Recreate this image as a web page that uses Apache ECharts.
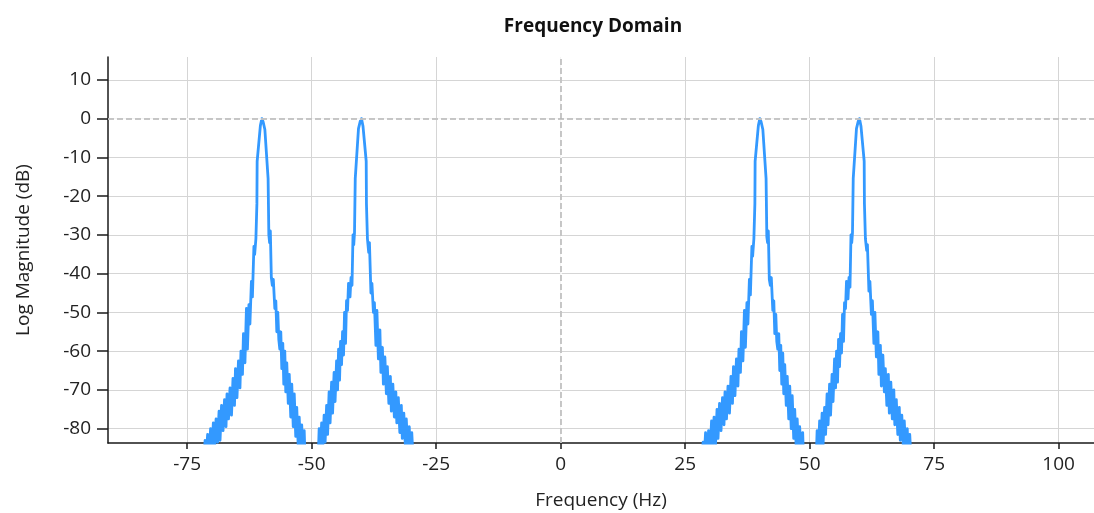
<!DOCTYPE html>
<html>
<head>
<meta charset="utf-8">
<script src="https://cdn.jsdelivr.net/npm/echarts@6/dist/echarts.min.js"></script>
<style>
html,body{margin:0;padding:0;background:#fff;}
#chart{width:1094px;height:513px;}
</style>
</head>
<body>
<div id="chart"></div>
<script>
// ---- Tick labels ----
const xTicks = [-75, -50, -25, 0, 25, 50, 75, 100];
const yTicks = [-80, -70, -60, -50, -40, -30, -20, -10, 0, 10];

// ---- Spectrum values: [frequency Hz, log magnitude dB] ----
const peakM60 = [
  [-71.8,-90],[-71.4,-83],[-71.2,-88],[-70.9,-81.5],[-70.6,-87],[-70.3,-80],[-70.0,-86.5],
  [-69.75,-78.5],[-69.5,-85],[-69.2,-77.5],[-68.9,-83.5],[-68.6,-75.5],[-68.4,-83],
  [-68.1,-74],[-67.8,-80.5],[-67.5,-72.5],[-67.2,-79.5],[-67.0,-71],[-66.7,-77.5],[-66.4,-69.5],
  [-66.1,-76.5],[-65.8,-67],[-65.5,-74],[-65.3,-64.5],[-65.0,-72],[-64.7,-62.5],
  [-64.4,-69.5],[-64.2,-60],[-63.9,-66],[-63.7,-55.5],[-63.4,-63],[-63.1,-49],
  [-62.9,-59.5],[-62.6,-48],[-62.4,-53],[-62.1,-42],[-61.9,-46],[-61.6,-33],[-61.45,-35],
  [-61.2,-31],[-61.0,-22],[-60.95,-11],[-60.3,-1.8],[-60.0,0],
  [-59.75,-0.8],[-59.4,-2.8],[-58.75,-15.5],[-58.6,-30],[-58.45,-32],[-58.3,-29],
  [-58.1,-41],[-57.9,-43],[-57.7,-41.5],[-57.4,-49],[-57.2,-47],[-57.0,-55],[-56.8,-50],
  [-56.6,-57],[-56.4,-59.5],[-56.2,-55],[-56.0,-64.5],[-55.8,-58],[-55.6,-68.5],[-55.4,-60],
  [-55.2,-70.5],[-55.0,-63],[-54.7,-73.5],[-54.5,-66],[-54.2,-77],[-54.0,-68.5],[-53.7,-79.5],
  [-53.5,-71],[-53.2,-82],[-53.0,-74.5],[-52.7,-84.5],[-52.5,-77],[-52.2,-86.5],[-52.0,-79],
  [-51.7,-88],[-51.5,-80.5],[-51.3,-89],[-51.0,-92]
];
const peakM40 = [
  [-49.0,-92],[-48.7,-88.5],[-48.5,-80],[-48.3,-87.5],[-48.0,-78.5],[-47.8,-85.5],[-47.5,-76.5],
  [-47.3,-83.5],[-47.0,-74],[-46.8,-81.5],[-46.5,-70.5],[-46.3,-78.5],[-46.0,-68],[-45.8,-76],
  [-45.5,-65.5],[-45.3,-73],[-45.0,-62.5],[-44.8,-70],[-44.6,-59.5],[-44.4,-67.5],
  [-44.2,-57.5],[-44.0,-63.5],[-43.8,-55],[-43.6,-61],[-43.4,-50],[-43.2,-58],[-43.0,-47],
  [-42.8,-49.5],[-42.6,-42.5],[-42.3,-46],[-42.1,-41],[-41.9,-43],[-41.7,-30],[-41.55,-32.5],
  [-41.4,-29.5],[-41.25,-15.5],[-40.6,-2.6],[-40.25,-0.7],[-40.0,0],
  [-39.7,-1.9],[-39.05,-11],[-39.0,-22],[-38.8,-31],[-38.55,-34.5],[-38.4,-32],[-38.1,-45],
  [-37.9,-42.5],[-37.6,-50],[-37.4,-47.5],[-37.1,-58.5],[-36.9,-49.5],[-36.6,-62],
  [-36.3,-54.5],[-36.1,-65.5],[-35.8,-59],[-35.6,-68.5],[-35.3,-61.5],[-35.0,-71],[-34.8,-64],
  [-34.5,-73.5],[-34.2,-66.5],[-34.0,-75.5],[-33.7,-68.5],[-33.4,-77],[-33.1,-70.5],[-32.9,-78.5],
  [-32.6,-72],[-32.3,-81],[-32.0,-74],[-31.8,-82.5],[-31.5,-76],[-31.2,-84],[-31.0,-77.5],
  [-30.7,-85.5],[-30.4,-79.5],[-30.2,-87.5],[-29.9,-81],[-29.6,-88.5],[-29.3,-91]
];
const peak40 = [
  [28.2,-91],[28.6,-83.5],[28.8,-88],[29.1,-81],[29.4,-87.5],[29.7,-80.5],[30.0,-86.5],
  [30.3,-78],[30.5,-85],[30.8,-77],[31.1,-84],[31.4,-75],[31.6,-82.5],[31.9,-73.5],
  [32.2,-80.5],[32.5,-72],[32.8,-79],[33.0,-70.5],[33.3,-77.5],[33.6,-69],[33.9,-76],
  [34.2,-66.5],[34.5,-73.5],[34.7,-64],[35.0,-71.5],[35.3,-62],[35.6,-69],[35.8,-59.5],
  [36.1,-65.5],[36.3,-55],[36.6,-62.5],[36.9,-49.5],[37.1,-59],[37.4,-47.5],[37.6,-53],
  [37.9,-41.5],[38.1,-45.5],[38.4,-33],[38.55,-35.5],[38.8,-31],[39.0,-22],[39.05,-11],
  [39.7,-1.8],[40.0,0],
  [40.25,-0.8],[40.6,-2.8],[41.25,-15.5],[41.4,-30.5],[41.55,-32],[41.7,-29],[41.9,-41.5],
  [42.1,-43],[42.3,-41],[42.6,-49.5],[42.8,-47],[43.0,-55.5],[43.2,-50.5],[43.4,-57.5],
  [43.6,-59.5],[43.8,-55.5],[44.0,-65],[44.2,-58.5],[44.4,-68.5],[44.6,-60.5],[44.8,-71],
  [45.0,-63.5],[45.3,-74],[45.5,-66.5],[45.8,-77.5],[46.0,-69],[46.3,-80],[46.5,-71.5],
  [46.8,-82.5],[47.0,-75],[47.3,-85],[47.5,-77.5],[47.8,-87],[48.0,-79.5],[48.3,-88.5],
  [48.6,-81],[48.8,-89],[49.1,-93]
];
const peak60 = [
  [51.0,-92],[51.3,-88.5],[51.5,-80.5],[51.7,-88],[52.0,-78],[52.2,-85.5],[52.5,-76],
  [52.7,-84],[53.0,-74.5],[53.2,-81.5],[53.5,-71],[53.7,-79],[54.0,-68.5],[54.2,-76.5],
  [54.5,-66],[54.7,-73],[55.0,-62],[55.2,-69.5],[55.4,-60],[55.6,-68],[55.8,-57],
  [56.0,-64],[56.2,-55.5],[56.4,-60.5],[56.6,-50.5],[56.8,-57.5],[57.0,-47.5],[57.2,-49],
  [57.4,-42],[57.7,-46.5],[57.9,-41],[58.1,-43.5],[58.3,-30],[58.45,-32],[58.6,-29.5],
  [58.75,-15.5],[59.4,-2.6],[59.75,-0.7],[60.0,0],
  [60.3,-1.9],[60.95,-11],[61.0,-22],[61.2,-31],[61.45,-34],[61.6,-32.5],[61.9,-44.5],
  [62.1,-42],[62.4,-50.5],[62.6,-47],[62.9,-58],[63.1,-50],[63.4,-61.5],[63.7,-55],
  [63.9,-66],[64.2,-58.5],[64.4,-69],[64.7,-61],[65.0,-70.5],[65.2,-64.5],[65.5,-74],
  [65.8,-66],[66.0,-76],[66.3,-68],[66.6,-77.5],[66.9,-70],[67.1,-79],[67.4,-72.5],
  [67.7,-81.5],[68.0,-74.5],[68.2,-83],[68.5,-76.5],[68.8,-84.5],[69.0,-78],[69.3,-86],
  [69.6,-80],[69.8,-88],[70.1,-81.5],[70.4,-89],[70.7,-92]
];

const spectrum = [].concat(peakM60, peakM40, peak40, peak60);

const FONT = '"Open Sans", "Noto Sans", sans-serif';
const chart = echarts.init(document.getElementById('chart'), null, {renderer: 'canvas'});
chart.setOption({
  animation: false,
  backgroundColor: '#ffffff',
  title: {
    text: 'Frequency Domain',
    left: 588,
    top: 12,
    textAlign: 'center',
    textStyle: {fontFamily: FONT, fontSize: 19, fontWeight: 'bold', color: '#111'}
  },
  grid: {left: 108, right: 0, top: 57, bottom: 70, containLabel: false, outerBoundsMode: 'none'},
  xAxis: {
    type: 'value',
    min: -90.9,
    max: 107.1,
    name: 'Frequency (Hz)',
    nameLocation: 'middle',
    nameGap: 48,
    nameTextStyle: {fontFamily: FONT, fontSize: 19, color: '#222'},
    axisLine: {show: true, onZero: false, lineStyle: {color: '#1a1a1a', width: 1.5}},
    axisTick: {show: true, customValues: xTicks, length: 6, lineStyle: {color: '#1a1a1a', width: 1.5}},
    axisLabel: {customValues: xTicks, margin: 12, fontFamily: FONT, fontSize: 19, color: '#222',
      showMinLabel: true, showMaxLabel: true},
    splitLine: {show: true, lineStyle: {color: '#d5d5d5', width: 1}}
  },
  yAxis: {
    type: 'value',
    min: -83.7,
    max: 15.9,
    name: 'Log Magnitude (dB)',
    nameLocation: 'middle',
    nameGap: 75,
    nameTextStyle: {fontFamily: FONT, fontSize: 19, color: '#222'},
    axisLine: {show: true, onZero: false, lineStyle: {color: '#1a1a1a', width: 1.5}},
    axisTick: {show: true, customValues: yTicks, length: 11, lineStyle: {color: '#1a1a1a', width: 1.5}},
    axisLabel: {customValues: yTicks, margin: 17, fontFamily: FONT, fontSize: 19, color: '#222'},
    splitLine: {show: true, lineStyle: {color: '#d5d5d5', width: 1}}
  },
  series: [
    {
      type: 'line',
      data: [],
      z: 1,
      silent: true,
      markLine: {
        silent: true,
        symbol: 'none',
        animation: false,
        label: {show: false},
        emphasis: {disabled: true},
        data: [
          {yAxis: 0, lineStyle: {color: '#ffffff', type: 'solid', width: 1.5}},
          {xAxis: 0, lineStyle: {color: '#ffffff', type: 'solid', width: 1.5}},
          {yAxis: 0, lineStyle: {color: '#b5b5b5', type: [6, 3], width: 1.5}},
          {xAxis: 0, lineStyle: {color: '#b5b5b5', type: [6, 3], width: 1.5}}
        ]
      }
    },
    {
      type: 'line',
      data: spectrum,
      z: 3,
      showSymbol: false,
      symbol: 'none',
      clip: true,
      lineStyle: {color: '#3399ff', width: 2.8, join: 'round'},
      emphasis: {disabled: true}
    }
  ]
});
</script>
</body>
</html>
